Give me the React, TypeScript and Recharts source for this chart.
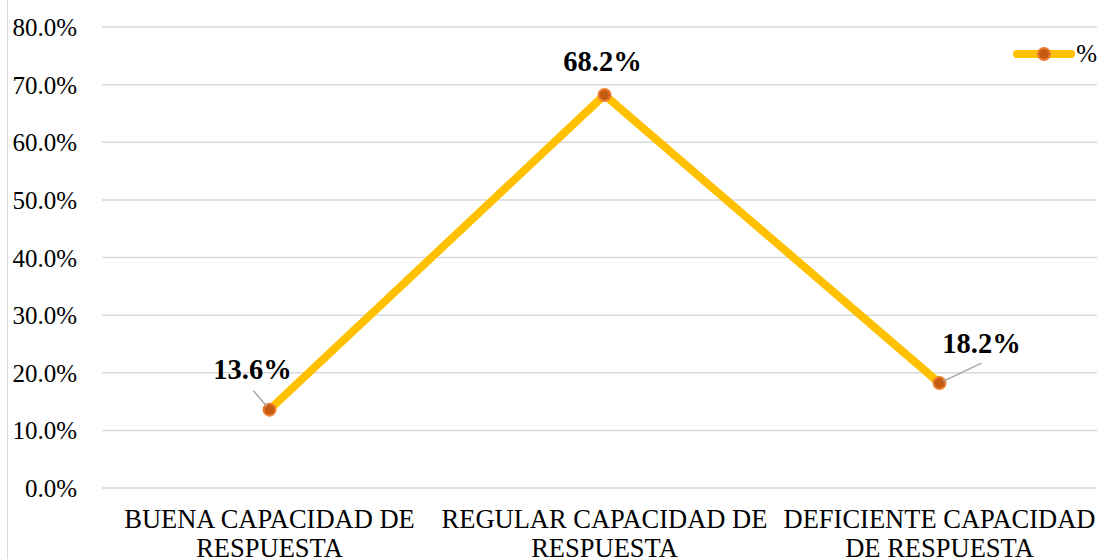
import React from "react";
import { LineChart, Line, XAxis, YAxis, CartesianGrid, LabelList } from "recharts";

const categories = ["BUENA CAPACIDAD DE RESPUESTA", "REGULAR CAPACIDAD DE RESPUESTA", "DEFICIENTE CAPACIDAD DE RESPUESTA"];
const categoryLines = [["BUENA CAPACIDAD DE", "RESPUESTA"], ["REGULAR CAPACIDAD DE", "RESPUESTA"], ["DEFICIENTE CAPACIDAD", "DE RESPUESTA"]];
const percentValues = [13.6, 68.2, 18.2];
const yTicks = [0, 10, 20, 30, 40, 50, 60, 70, 80];
const seriesName = "%";

const data = categories.map((c, i) => ({ name: c, value: percentValues[i] }));

const FONT = "Liberation Serif, Times New Roman, serif";
const LINE_COLOR = "#FFC000";
const DOT_FILL = "#C55A11";
const DOT_STROKE = "#ED7D31";

// label placement relative to point (style only)
const labelOffsets = [
  { dx: -17, dy: -31, leader: true, lx: -16, ly: -19 },
  { dx: -2, dy: -24, leader: false, lx: 0, ly: 0 },
  { dx: 42, dy: -30, leader: true, lx: 42, ly: -20 },
];

const renderLabel = (props: any) => {
  const { x, y, value, index } = props;
  const o = labelOffsets[index];
  const tx = x + o.dx;
  const ty = y + o.dy;
  let leader = null;
  if (o.leader) {
    const ex = x + o.lx;
    const ey = y + o.ly;
    const ang = Math.atan2(ey - y, ex - x);
    leader = (
      <line x1={ex} y1={ey} x2={x + Math.cos(ang) * 4} y2={y + Math.sin(ang) * 4} stroke="#A6A6A6" strokeWidth={1.5} />
    );
  }
  return (
    <g>
      {leader}
      <text x={tx} y={ty} textAnchor="middle" fontFamily={FONT} fontWeight="bold" fontSize={28.5} fill="#000">
        {Number(value).toFixed(1)}%
      </text>
    </g>
  );
};

const XTick = (props: any) => {
  const { x, y, payload } = props;
  const lines = categoryLines[payload.index] || [String(payload.value)];
  return (
    <g>
      {lines.map((l: string, i: number) => (
        <text key={i} x={x} y={y + 32 + i * 29} textAnchor="middle" fontFamily={FONT} fontSize={26.5} fill="#000">
          {l}
        </text>
      ))}
    </g>
  );
};

const YTick = (props: any) => {
  const { x, y, payload } = props;
  return (
    <text x={x} y={y + 9} textAnchor="end" fontFamily={FONT} fontSize={25} fill="#000">
      {Number(payload.value).toFixed(1)}%
    </text>
  );
};

export default function App() {
  return (
    <div style={{ position: "absolute", left: 0, top: 0, width: 1097, height: 559, overflow: "hidden", background: "#fff", fontFamily: FONT }}>
      <div style={{ position: "absolute", left: 7, top: 0, width: 1, height: 559, background: "#D9D9D9" }} />
      <LineChart width={1107} height={559} data={data} margin={{ top: 27, right: 0, bottom: 0, left: 0 }}>
        <CartesianGrid vertical={false} stroke="#D9D9D9" strokeWidth={1.5} />
        <XAxis dataKey="name" scale="band" axisLine={false} tickLine={false} height={71} tick={<XTick />} interval={0} />
        <YAxis width={102} domain={[0, 80]} ticks={yTicks} axisLine={false} tickLine={false} tickMargin={19} tick={<YTick />} />
        <Line
          type="linear"
          dataKey="value"
          name={seriesName}
          stroke={LINE_COLOR}
          strokeWidth={8}
          isAnimationActive={false}
          dot={{ r: 6, fill: DOT_FILL, stroke: DOT_STROKE, strokeWidth: 2 }}
        >
          <LabelList dataKey="value" content={renderLabel} />
        </Line>
      </LineChart>
      <div style={{ position: "absolute", top: 44, right: 0, display: "flex", alignItems: "center", fontSize: 25, color: "#000", lineHeight: "20px" }}>
        <svg width={62} height={18}>
          <line x1={4} y1={9} x2={58} y2={9} stroke={LINE_COLOR} strokeWidth={8} strokeLinecap="round" />
          <circle cx={31} cy={9} r={6} fill={DOT_FILL} stroke={DOT_STROKE} strokeWidth={2} />
        </svg>
        <span style={{ marginLeft: 1 }}>{seriesName}</span>
      </div>
    </div>
  );
}
